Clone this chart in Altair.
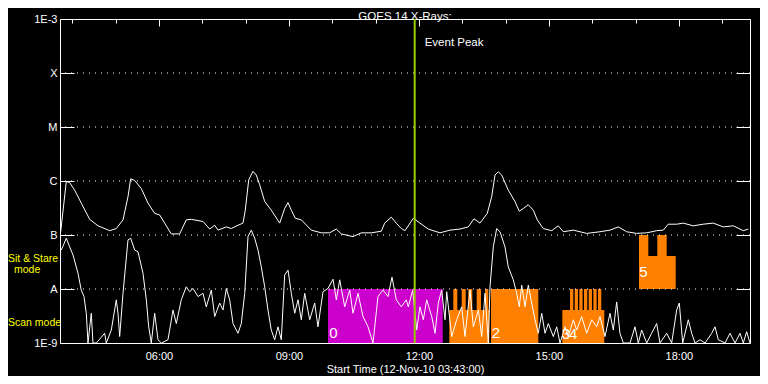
import altair as alt
import pandas as pd

# ---------------- data (UT decimal hours on 12-Nov-2010, log10 flux W/m^2) ----------------
upper_hours = [3.733, 3.862, 3.940, 4.056, 4.208, 4.402, 4.594, 4.864, 5.016, 5.171,
               5.286, 5.348, 5.441, 5.593, 5.748, 5.902, 6.018, 6.133, 6.285, 6.479,
               6.631, 6.747, 7.017, 7.171, 7.287, 7.363, 7.554, 7.670, 7.825, 7.940,
               7.993, 8.072, 8.171, 8.247, 8.325, 8.441, 8.593, 8.787, 8.902, 8.979,
               9.055, 9.147, 9.286, 9.517, 9.747, 9.941, 10.093, 10.209, 10.479, 10.670,
               10.901, 11.132, 11.210, 11.363, 11.478, 11.594, 11.679, 11.870, 12.025, 12.216,
               12.486, 12.717, 12.948, 13.140, 13.271, 13.410, 13.578, 13.680, 13.756, 13.832,
               13.911, 14.063, 14.218, 14.317, 14.409, 14.524, 14.640, 14.732, 14.870, 15.064,
               15.217, 15.332, 15.563, 15.872, 16.179, 16.410, 16.601, 16.795, 17.026, 17.257,
               17.488, 17.640, 17.755, 17.949, 18.101, 18.332, 18.563, 18.794, 19.025, 19.256,
               19.486, 19.602]
upper_log = [-6.94, -6.01, -6.03, -6.17, -6.41, -6.71, -6.83, -6.92, -6.88, -6.72,
             -6.29, -5.96, -5.99, -6.14, -6.41, -6.60, -6.63, -6.78, -6.98, -6.98,
             -6.72, -6.71, -6.75, -6.89, -6.82, -6.91, -6.85, -6.88, -6.82, -6.78,
             -6.54, -5.98, -5.82, -5.89, -6.07, -6.38, -6.54, -6.78, -6.51, -6.40,
             -6.54, -6.69, -6.72, -6.91, -6.96, -6.96, -6.89, -6.98, -7.03, -6.96,
             -6.96, -6.93, -6.78, -6.67, -6.78, -6.88, -6.92, -6.69, -6.78, -6.89,
             -6.96, -6.91, -6.89, -6.85, -6.70, -6.78, -6.60, -6.29, -5.89, -5.83,
             -5.89, -6.17, -6.38, -6.56, -6.51, -6.44, -6.54, -6.72, -6.88, -6.92,
             -6.83, -6.94, -6.91, -6.97, -6.94, -6.91, -6.85, -6.94, -6.97, -6.96,
             -6.92, -6.91, -6.80, -6.80, -6.78, -6.83, -6.80, -6.78, -6.85, -6.83,
             -6.92, -6.89]

lower_hours = [3.747, 3.862, 3.940, 4.017, 4.132, 4.208, 4.271, 4.324, 4.363, 4.439,
               4.478, 4.555, 4.748, 4.785, 4.901, 5.016, 5.055, 5.094, 5.171, 5.286,
               5.348, 5.441, 5.517, 5.632, 5.709, 5.764, 5.824, 5.902, 5.978, 6.055,
               6.209, 6.325, 6.401, 6.516, 6.631, 6.710, 6.786, 6.902, 7.017, 7.093,
               7.209, 7.287, 7.402, 7.479, 7.555, 7.633, 7.710, 7.825, 7.901, 7.980,
               8.056, 8.132, 8.210, 8.287, 8.363, 8.441, 8.517, 8.593, 8.672, 8.748,
               8.824, 8.902, 8.979, 9.055, 9.134, 9.210, 9.286, 9.364, 9.480, 9.595,
               9.671, 9.787, 9.902, 10.018, 10.094, 10.172, 10.288, 10.403, 10.479, 10.595,
               10.710, 10.826, 10.941, 11.056, 11.172, 11.287, 11.379, 11.478, 11.594, 11.709,
               11.755, 11.857, 11.949, 12.025, 12.102, 12.180, 12.296, 12.372, 12.448, 12.526,
               12.603, 12.642, 12.757, 12.872, 12.988, 13.064, 13.180, 13.256, 13.372, 13.450,
               13.526, 13.602, 13.641, 13.717, 13.795, 13.872, 13.987, 14.063, 14.179, 14.257,
               14.317, 14.373, 14.449, 14.525, 14.603, 14.680, 14.756, 14.834, 14.911, 14.987,
               15.102, 15.181, 15.257, 15.372, 15.448, 15.564, 15.642, 15.757, 15.872, 15.988,
               16.104, 16.179, 16.295, 16.410, 16.487, 16.565, 16.641, 16.718, 16.872, 16.988,
               17.064, 17.142, 17.257, 17.372, 17.488, 17.564, 17.719, 17.834, 17.949, 18.010,
               18.088, 18.218, 18.296, 18.373, 18.488, 18.604, 18.758, 18.834, 18.910, 19.065,
               19.180, 19.296, 19.411, 19.487, 19.565, 19.642]
lower_log = [-7.28, -7.06, -7.22, -7.37, -7.71, -8.02, -8.14, -8.45, -9.00, -8.45,
             -9.00, -9.00, -8.82, -9.00, -8.76, -8.20, -8.45, -8.88, -8.08, -7.09,
             -7.06, -7.28, -7.31, -7.71, -8.20, -8.70, -9.00, -8.45, -8.94, -9.00,
             -8.94, -8.39, -8.64, -8.20, -7.96, -8.05, -7.99, -8.14, -8.08, -8.33,
             -8.02, -8.51, -8.26, -8.39, -7.99, -8.20, -8.64, -8.82, -8.64, -8.08,
             -7.03, -6.91, -7.06, -7.28, -7.59, -7.96, -8.39, -8.76, -8.94, -8.70,
             -8.94, -7.74, -7.65, -8.08, -8.45, -8.20, -8.57, -8.08, -8.57, -8.26,
             -8.70, -8.05, -7.99, -7.82, -8.20, -7.83, -8.33, -8.02, -8.45, -8.08,
             -8.51, -8.70, -9.00, -8.14, -8.02, -8.14, -7.78, -8.20, -8.33, -8.20,
             -8.33, -8.02, -8.76, -8.33, -8.57, -8.20, -8.51, -8.82, -8.26, -8.02,
             -8.57, -8.05, -8.88, -8.57, -8.33, -8.88, -8.02, -8.70, -8.39, -8.88,
             -8.08, -9.00, -7.96, -7.22, -6.88, -6.94, -7.22, -7.59, -7.83, -8.08,
             -8.33, -7.93, -8.33, -7.93, -8.26, -8.57, -8.82, -8.45, -8.82, -8.64,
             -8.88, -8.70, -9.00, -8.70, -8.88, -8.57, -8.76, -8.51, -8.82, -8.57,
             -8.70, -8.51, -8.88, -8.45, -8.76, -8.24, -8.82, -9.00, -9.00, -8.70,
             -9.00, -8.76, -9.00, -8.82, -8.64, -9.00, -8.82, -9.00, -8.39, -8.26,
             -9.00, -8.57, -8.82, -9.00, -8.94, -9.00, -8.82, -8.70, -8.94, -9.00,
             -8.82, -9.00, -8.82, -9.00, -8.79, -9.00]

# observation blocks: start/end (UT hours), low/high (log10 flux), colour
block_start = [9.902, 12.702, 12.794, 12.988, 13.140, 13.334, 13.526, 13.664,
               15.310, 15.488, 15.596, 15.703, 15.811, 15.919, 16.027, 16.134,
               17.080, 17.080, 17.502]
block_end = [12.550, 13.625, 12.887, 13.080, 13.233, 13.433, 13.602, 14.756,
             16.279, 15.563, 15.671, 15.778, 15.886, 15.994, 16.102, 16.209,
             17.927, 17.295, 17.719]
block_low = [-9, -9, -8.39, -8.39, -8.39, -8.39, -8.39, -9,
             -9, -8.39, -8.39, -8.39, -8.39, -8.39, -8.39, -8.39,
             -8, -7.39, -7.39]
block_high = [-8, -8.39, -8, -8, -8, -8, -8, -8,
              -8.39, -8, -8, -8, -8, -8, -8, -8,
              -7.39, -7, -7]
block_color = ["#cc00cc"] + ["#ff8000"] * 18

block_label_text = ["0", "2", "3", "4", "5"]
block_label_hours = [10.029, 13.775, 15.395, 15.560, 17.184]
block_label_log = [-8.81, -8.81, -8.83, -8.83, -7.69]

grid_levels = [-8, -7, -6, -5, -4]
y_tick_values = [-9, -8, -7, -6, -5, -4, -3]
y_tick_labels = ["1E-9", "A", "B", "C", "M", "X", "1E-3"]
x_label_hours = [6, 9, 12, 15, 18]
x_minor_hours = list(range(4, 20))

event_peak_hours = [11.903]
event_text = ["Event Peak"]
mode_text = ["Sit & Stare", "mode", "Scan mode"]

# ---------------- helpers ----------------
DAY = pd.Timestamp("2010-11-12")


def iso(h):
    return (DAY + pd.to_timedelta(h, unit="h")).strftime("%Y-%m-%dT%H:%M:%S")


def dt(h, m=0, s=0):
    return alt.DateTime(year=2010, month=11, date=12, hours=h, minutes=m, seconds=s)


upper_df = pd.DataFrame({"t": [iso(h) for h in upper_hours], "v": upper_log})
lower_df = pd.DataFrame({"t": [iso(h) for h in lower_hours], "v": lower_log})
blocks_df = pd.DataFrame({
    "start": [iso(h) for h in block_start], "end": [iso(h) for h in block_end],
    "low": block_low, "high": block_high, "color": block_color})
blabels_df = pd.DataFrame({"t": [iso(h) for h in block_label_hours],
                           "v": block_label_log, "txt": block_label_text})
grid_df = pd.DataFrame({"v": grid_levels})
peak_df = pd.DataFrame({"t": [iso(h) for h in event_peak_hours], "txt": event_text})

x_scale = alt.Scale(domain=[dt(3, 43), dt(19, 38, 30)])
y_scale = alt.Scale(domain=[-9, -3], nice=False, zero=False)

label_expr = " : ".join(
    f"datum.value == {v} ? '{l}'" for v, l in zip(y_tick_values, y_tick_labels)) + " : ''"

FONT = "Liberation Sans"
WHITE = "#ffffff"

# ---------------- layers ----------------
blocks = alt.Chart(blocks_df).mark_rect().encode(
    x=alt.X("start:T", scale=x_scale, axis=alt.Axis(
        orient="bottom", values=[dt(h) for h in x_label_hours], format="%H:%M",
        title="Start Time (12-Nov-10 03:43:00)", ticks=False, domain=False, grid=False,
        labelPadding=7, titlePadding=2, labelColor=WHITE, titleColor=WHITE,
        labelFont=FONT, titleFont=FONT, labelFontSize=11, titleFontSize=11,
        titleFontWeight="normal", labelFlush=False)),
    x2="end:T",
    y=alt.Y("low:Q", scale=y_scale, axis=alt.Axis(
        orient="left", values=y_tick_values, labelExpr=label_expr, tickSize=14,
        offset=-14, domain=False, grid=False, title=None, labelPadding=3,
        tickColor=WHITE, labelColor=WHITE, labelFont=FONT, labelFontSize=11)),
    y2="high:Q",
    color=alt.Color("color:N", scale=None),
)

grid = alt.Chart(grid_df).mark_rule(color=WHITE, strokeWidth=1, strokeDash=[1, 5]).encode(
    y=alt.Y("v:Q", scale=y_scale, axis=None))

upper = alt.Chart(upper_df).mark_line(color=WHITE, strokeWidth=1).encode(
    x=alt.X("t:T", scale=x_scale, axis=alt.Axis(
        orient="top", values=[dt(h) for h in x_minor_hours], labels=False, domain=False,
        grid=False, tickSize=4, offset=-4, tickColor=WHITE, title=None)),
    y=alt.Y("v:Q", scale=y_scale, axis=alt.Axis(
        orient="right", values=y_tick_values, labels=False, domain=False, grid=False,
        tickSize=14, offset=-14, tickColor=WHITE, title=None)),
)

lower = alt.Chart(lower_df).mark_line(color=WHITE, strokeWidth=1).encode(
    x=alt.X("t:T", scale=x_scale, axis=alt.Axis(
        orient="top", values=[dt(h) for h in x_label_hours], labels=False, domain=False,
        grid=False, tickSize=7, offset=-7, tickColor=WHITE, title=None)),
    y=alt.Y("v:Q", scale=y_scale, axis=None),
)

blabels = alt.Chart(blabels_df).mark_text(
    color=WHITE, font=FONT, fontSize=15, align="center", baseline="middle").encode(
    x=alt.X("t:T", scale=x_scale, axis=None),
    y=alt.Y("v:Q", scale=y_scale, axis=None),
    text="txt:N")

peak = alt.Chart(peak_df).mark_rule(color="#99cc00", strokeWidth=2).encode(
    x=alt.X("t:T", scale=x_scale, axis=None))

peak_text = alt.Chart(peak_df).mark_text(
    color=WHITE, font=FONT, fontSize=11.5, align="left", baseline="middle", dx=10).encode(
    x=alt.X("t:T", scale=x_scale, axis=None),
    y=alt.value(24),
    text="txt:N")

YELLOW = "#ffff00"
sit1 = alt.Chart(pd.DataFrame({"txt": [mode_text[0]]})).mark_text(
    color=YELLOW, font=FONT, fontSize=10.5, align="left", baseline="middle").encode(
    x=alt.value(-52), y=alt.value(240), text="txt:N")
sit2 = alt.Chart(pd.DataFrame({"txt": [mode_text[1]]})).mark_text(
    color=YELLOW, font=FONT, fontSize=10.5, align="left", baseline="middle").encode(
    x=alt.value(-46), y=alt.value(251), text="txt:N")
scan = alt.Chart(pd.DataFrame({"txt": [mode_text[2]]})).mark_text(
    color=YELLOW, font=FONT, fontSize=10.5, align="left", baseline="middle").encode(
    x=alt.value(-52), y=alt.value(304), text="txt:N")

chart = alt.layer(
    blocks, grid, lower, upper, blabels, peak, peak_text, sit1, sit2, scan
).resolve_axis(x="independent", y="independent").properties(
    width=690, height=324,
    background="#000000",
    padding={"left": 52, "top": 11, "right": 10, "bottom": 33},
    autosize=alt.AutoSizeParams(type="none"),
    title=alt.TitleParams("GOES 14 X-Rays:", color=WHITE, font=FONT, fontSize=11.5,
                          fontWeight="normal", anchor="middle", offset=0, frame="group",
                          dy=9),
).configure_view(stroke=WHITE, strokeWidth=1)

chart.save("out.html", embed_options={"renderer": "svg", "actions": False})
